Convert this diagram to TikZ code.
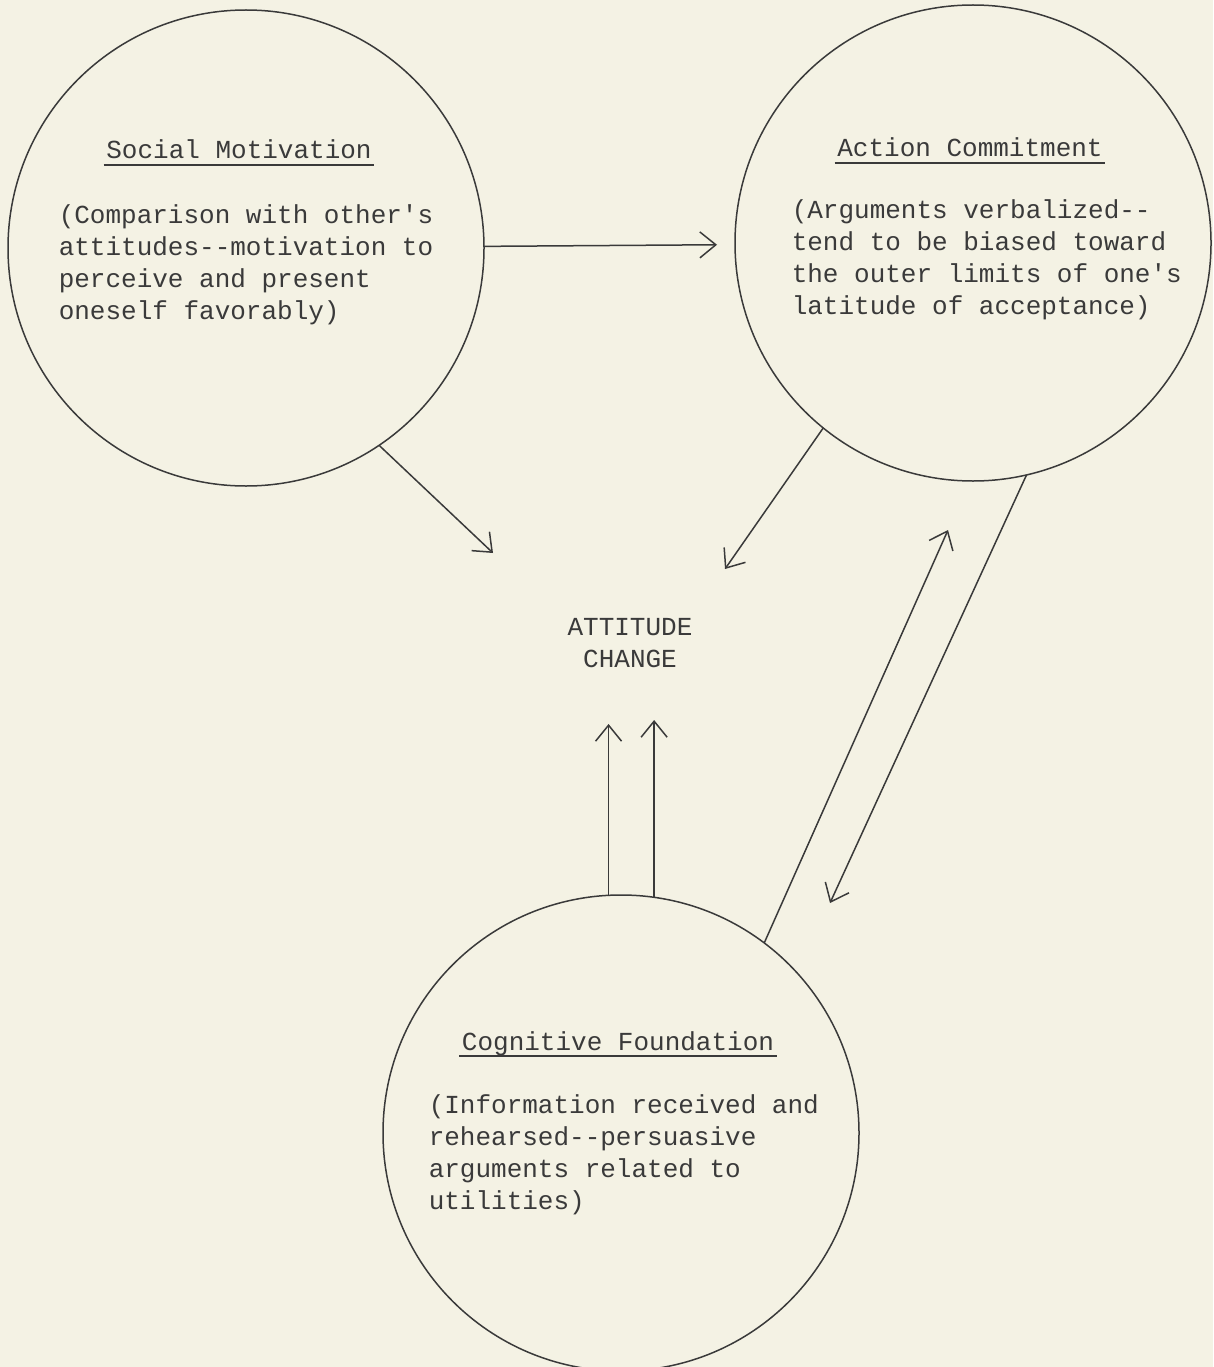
\documentclass[tikz,border=0pt]{standalone}
\usepackage{fontspec}
\setmonofont{Liberation Mono}
\usetikzlibrary{arrows.meta, positioning, calc}
\definecolor{paper}{HTML}{F4F2E4}
\definecolor{ink}{HTML}{3A3A3A}

\begin{document}
\begin{tikzpicture}[x=1pt, y=-1pt, line width=1.5pt, color=ink,
    > = {Straight Barb[length=16pt, width=26pt]},
    bubble/.style={circle, draw, minimum size=476pt, inner sep=0pt, outer sep=0pt},
    heading/.style={font=\ttfamily\fontsize{26}{32}\selectfont, inner sep=0pt, anchor=base},
    blurb/.style={font=\ttfamily\fontsize{26}{32}\selectfont, inner sep=0pt, align=left, anchor=base west},
    link/.style={->}]
    \fill[paper] (0,0) rectangle (1213,1367);
    \useasboundingbox (0,0) rectangle (1213,1367);

    % the three bubbles
    \node[bubble] (social) at (246,248) {};
    \node[bubble] (action) at (973,243) {};
    \node[bubble] (cognitive) at (621,1133) {};

    % texts (base = last line)
    \node[heading] (smHead) at (239,159) {Social Motivation};
    \node[blurb] (smText) at (58,319) {(Comparison with other's\\attitudes--motivation to\\perceive and present\\oneself favorably)};
    \node[heading] (acHead) at (970,157) {Action Commitment};
    \node[blurb] (acText) at (791,314) {(Arguments verbalized--\\tend to be biased toward\\the outer limits of one's\\latitude of acceptance)};
    \node[heading] (cfHead) at (618,1050) {Cognitive Foundation};
    \node[blurb] (cfText) at (428,1209) {(Information received and\\rehearsed--persuasive\\arguments related to\\utilities)};
    \node[heading, align=center] (attitude) at (630,667) {ATTITUDE\\CHANGE};

    % underlines of the headings
    \foreach \h in {smHead, acHead, cfHead}
        \draw[line width=1.2pt] ([xshift=-2pt, yshift=-6pt]\h.base west) -- ([xshift=2pt, yshift=-6pt]\h.base east);

    % free ends of the arrows
    \coordinate (smTip) at (493,553);
    \coordinate (acTip) at (725,569);
    \coordinate (cfTipL) at (606,724);
    \coordinate (cfTipR) at (651,720);
    \coordinate (upTip) at (948,530);
    \coordinate (downTip) at (830,903);

    \draw[link, shorten >=18pt] (social) -- (action);
    \draw[link] (social.-56.2) -- (smTip);
    \draw[link] (action.-129.4) -- (acTip);
    \draw[link] (cognitive.93.6) -- (cognitive.93.6 |- cfTipL);
    \draw[link] (cognitive.82.8) -- (cognitive.82.8 |- cfTipR);
    \draw[link] (cognitive.53.4) -- (upTip);
    \draw[link] (action.-77.5) -- (downTip);
\end{tikzpicture}
\end{document}
